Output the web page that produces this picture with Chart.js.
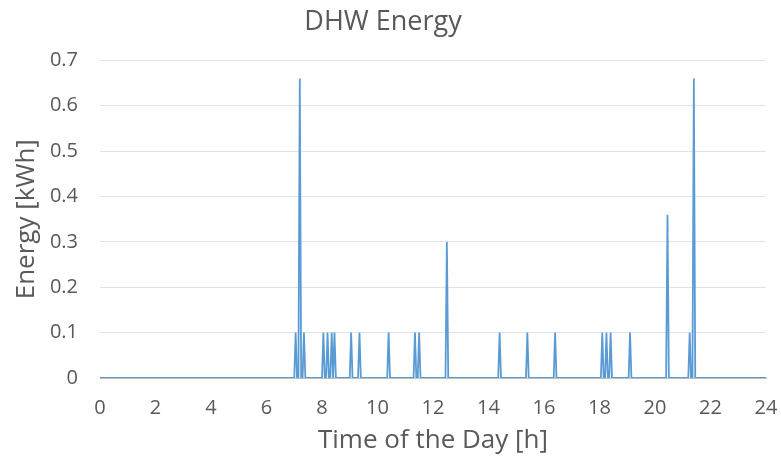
<!DOCTYPE html>
<html>
<head>
<meta charset="utf-8">
<script src="https://cdn.jsdelivr.net/npm/chart.js@4.4.1/dist/chart.umd.min.js"></script>
<style>
  html, body { margin: 0; padding: 0; background: #fff; }
  #wrap { width: 781px; height: 461px; }
</style>
</head>
<body>
<div id="wrap"><canvas id="chart-1"></canvas></div>
<script>
// hour of the day for every point of the trace
const hours = [
  0, 7.0, 7.05, 7.1, 7.15, 7.2, 7.25, 7.3, 7.35, 7.4,
  8.0, 8.05, 8.1, 8.15, 8.2, 8.25, 8.3, 8.35, 8.4, 8.45, 8.5,
  9.0, 9.05, 9.1, 9.3, 9.35, 9.4,
  10.35, 10.4, 10.45,
  11.3, 11.35, 11.4, 11.45, 11.5, 11.55,
  12.45, 12.5, 12.55,
  14.35, 14.4, 14.45,
  15.35, 15.4, 15.45,
  16.35, 16.4, 16.45,
  18.05, 18.1, 18.15, 18.2, 18.25, 18.3, 18.35, 18.4, 18.45,
  19.05, 19.1, 19.15,
  20.4, 20.45, 20.5,
  21.2, 21.25, 21.3, 21.35, 21.4, 21.45,
  24
];
// DHW energy in kWh at each of those hours
const energy = [
  0, 0, 0.1, 0, 0, 0.66, 0, 0, 0.1, 0,
  0, 0.1, 0, 0, 0.1, 0, 0, 0.1, 0, 0.1, 0,
  0, 0.1, 0, 0, 0.1, 0,
  0, 0.1, 0,
  0, 0.1, 0, 0, 0.1, 0,
  0, 0.3, 0,
  0, 0.1, 0,
  0, 0.1, 0,
  0, 0.1, 0,
  0, 0.1, 0, 0, 0.1, 0, 0, 0.1, 0,
  0, 0.1, 0,
  0, 0.36, 0,
  0, 0.1, 0, 0, 0.66, 0,
  0
];
const xTicks = [0, 2, 4, 6, 8, 10, 12, 14, 16, 18, 20, 22, 24];
const yTicks = ["0", "0.1", "0.2", "0.3", "0.4", "0.5", "0.6", "0.7"];

const FONT = "'Open Sans', sans-serif";
const GREY = "#595959";

const points = hours.map(function (h, i) {
  return { x: h, y: energy[i] };
});

new Chart(document.getElementById("chart-1"), {
  type: "line",
  data: {
    datasets: [
      {
        label: "DHW Energy",
        data: points,
        borderColor: "#5b9bd5",
        borderWidth: 1.8,
        pointRadius: 0,
        tension: 0,
        fill: false,
      },
    ],
  },
  options: {
    responsive: true,
    maintainAspectRatio: false,
    animation: false,
    layout: { padding: { left: 0, right: 15, top: 0, bottom: 0 } },
    plugins: {
      legend: { display: false },
      tooltip: { enabled: false },
      title: {
        display: true,
        text: "DHW Energy",
        color: GREY,
        font: { family: FONT, size: 27, weight: "normal" },
        padding: { top: 6, bottom: 22 },
      },
    },
    scales: {
      x: {
        type: "linear",
        min: 0,
        max: 24,
        afterBuildTicks: function (scale) {
          scale.ticks = xTicks.map(function (v) { return { value: v }; });
        },
        afterFit: function (scale) {
          scale.height = 83;
          scale.paddingLeft = 0;
          scale.paddingRight = 0;
        },
        grid: { display: false, drawTicks: false },
        border: { display: true, color: "#bfbfbf", width: 1 },
        ticks: {
          color: GREY,
          font: { family: FONT, size: 20 },
          padding: 18,
          maxRotation: 0,
        },
        title: {
          display: true,
          text: "Time of the Day [h]",
          color: GREY,
          font: { family: FONT, size: 26 },
          padding: { top: 0, bottom: 5 },
        },
      },
      y: {
        min: 0,
        max: 0.7,
        afterBuildTicks: function (scale) {
          scale.ticks = yTicks.map(function (v) { return { value: parseFloat(v) }; });
        },
        afterFit: function (scale) { scale.width = 100; },
        grid: { color: "#e3e3e3", drawTicks: false },
        border: { display: false },
        ticks: {
          color: GREY,
          font: { family: FONT, size: 20 },
          padding: 22,
          callback: function (v, i) { return yTicks[i]; },
        },
        title: {
          display: true,
          text: "Energy [kWh]",
          color: GREY,
          font: { family: FONT, size: 26 },
          padding: { top: 11, bottom: 0 },
        },
      },
    },
  },
});
</script>
</body>
</html>
